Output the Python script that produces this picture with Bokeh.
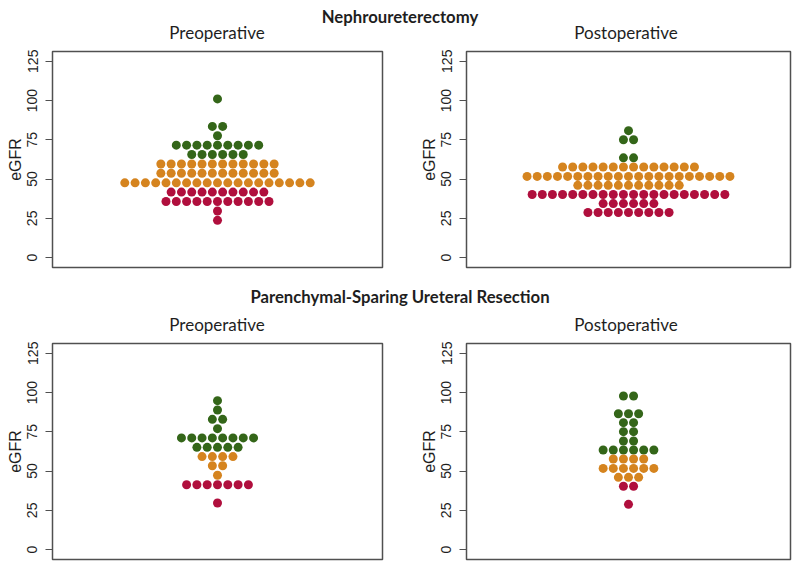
from bokeh.plotting import figure
from bokeh.models import Range1d, FixedTicker, ColumnDataSource, Div
from bokeh.layouts import column, row
from bokeh.embed import file_html
from bokeh.resources import INLINE

# ---- data (eGFR level of each row of dots, and number of patients in that row) ----
nu_pre_egfr = [101.0, 83.5, 77.6, 71.6, 65.6, 59.6, 53.7, 47.6, 41.7, 35.7, 29.7, 23.7]
nu_pre_count = [1, 2, 1, 9, 6, 12, 12, 19, 10, 11, 1, 1]

nu_post_egfr = [80.8, 75.0, 63.5, 57.7, 51.7, 46.0, 40.2, 34.4, 28.7]
nu_post_count = [1, 2, 2, 14, 21, 11, 20, 6, 9]

psur_pre_egfr = [94.8, 88.9, 82.9, 77.0, 71.1, 65.1, 59.2, 53.4, 47.3, 41.3, 29.7]
psur_pre_count = [1, 1, 2, 1, 8, 5, 4, 2, 1, 7, 1]

psur_post_egfr = [97.8, 86.5, 80.8, 75.1, 69.1, 63.4, 57.7, 51.7, 46.0, 40.3, 28.8]
psur_post_count = [2, 3, 2, 2, 2, 6, 4, 6, 3, 2, 1]

y_ticks = [0, 25, 50, 75, 100, 125]
section_titles = ["Nephroureterectomy", "Parenchymal-Sparing Ureteral Resection"]
panel_titles = ["Preoperative", "Postoperative"]

GREEN = "#346619"
ORANGE = "#d5841f"
RED = "#b00f3d"
TEXT = "#1e1e1e"
LINE = "#505050"


def colour(v):
    if v >= 60:
        return GREEN
    if v >= 45:
        return ORANGE
    return RED


def swarm(levels, counts, spacing=10.3):
    xs, ys, cs = [], [], []
    for v, n in zip(levels, counts):
        for i in range(n):
            xs.append((i - (n - 1) / 2.0) * spacing)
            ys.append(v)
            cs.append(colour(v))
    return ColumnDataSource(dict(x=xs, y=ys, c=cs))


def panel(levels, counts, width, height, frame_w, bl, br, bt, bb):
    p = figure(width=width, height=height, output_backend="svg", toolbar_location=None,
               x_range=Range1d(-frame_w / 2.0, frame_w / 2.0),
               y_range=Range1d(-6.3, 131.2),
               min_border_left=bl, min_border_right=br,
               min_border_top=bt, min_border_bottom=bb,
               x_axis_location=None)
    p.grid.visible = False
    p.outline_line_color = LINE
    p.outline_line_width = 1.5
    p.background_fill_color = "white"
    p.border_fill_color = "white"
    ax = p.yaxis[0]
    ax.ticker = FixedTicker(ticks=y_ticks)
    ax.axis_line_color = None
    ax.major_tick_line_color = LINE
    ax.major_tick_line_width = 1.2
    ax.major_tick_in = 0
    ax.major_tick_out = 7
    ax.minor_tick_line_color = None
    ax.major_label_orientation = "vertical"
    ax.major_label_text_font = "Liberation Sans"
    ax.major_label_text_font_size = "14px"
    ax.major_label_text_color = TEXT
    ax.major_label_standoff = 8
    ax.axis_label = "eGFR"
    ax.axis_label_text_font = "Liberation Sans"
    ax.axis_label_text_font_size = "16px"
    ax.axis_label_text_font_style = "normal"
    ax.axis_label_text_color = TEXT
    ax.axis_label_standoff = 1
    p.scatter("x", "y", source=swarm(levels, counts), size=9, color="c", line_color=None)
    return p


def header(section, h, head_top, title_top):
    html = (
        '<div style="position:relative;width:800px;height:%dpx;font-family:Lato;color:%s;">'
        '<div style="position:absolute;left:0px;width:800px;top:%dpx;line-height:18px;'
        'text-align:center;font-weight:bold;font-size:16.7px;white-space:nowrap;">%s</div>'
        '<div style="position:absolute;left:117px;width:200px;top:%dpx;line-height:20px;'
        'text-align:center;font-size:17px;white-space:nowrap;">%s</div>'
        '<div style="position:absolute;left:526px;width:200px;top:%dpx;line-height:20px;'
        'text-align:center;font-size:17px;white-space:nowrap;">%s</div>'
        '</div>'
    ) % (h, TEXT, head_top, section, title_top, panel_titles[0], title_top, panel_titles[1])
    return Div(text=html, width=800, height=h, margin=0)


top_l = panel(nu_pre_egfr, nu_pre_count, 417, 226, 330, 52, 35, 2, 8)
top_r = panel(nu_post_egfr, nu_post_count, 383, 226, 329, 44, 10, 2, 8)
bot_l = panel(psur_pre_egfr, psur_pre_count, 417, 229, 330, 52, 35, 2, 11)
bot_r = panel(psur_post_egfr, psur_post_count, 383, 229, 329, 44, 10, 2, 11)

layout = column(
    header(section_titles[0], 49, 8, 23),
    row(top_l, top_r, spacing=0),
    header(section_titles[1], 66, 13, 40),
    row(bot_l, bot_r, spacing=0),
    spacing=0,
)

open("out.html", "w").write(file_html(layout, INLINE))
